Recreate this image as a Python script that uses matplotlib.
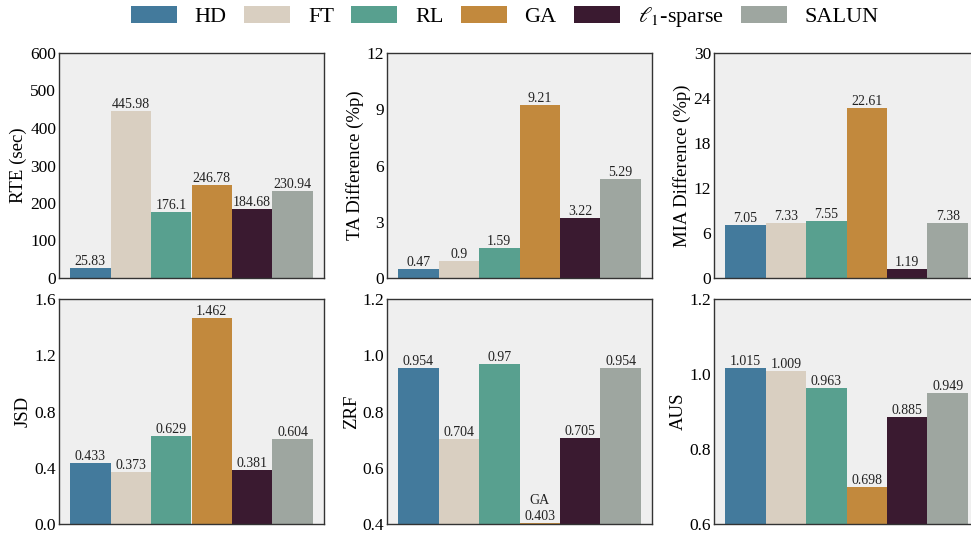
import matplotlib.pyplot as plt
from matplotlib.patches import Patch

plt.rcParams["font.family"] = ["Liberation Serif", "DejaVu Serif"]
plt.rcParams["mathtext.fontset"] = "stix"

methods = ["HD", "FT", "RL", "GA", r"$\ell_1$-sparse", "SALUN"]
colors = ["#437A9C", "#D9CFC1", "#58A08F", "#C2893D", "#3A1A30", "#9EA6A0"]

rte = [25.83, 445.98, 176.1, 246.78, 184.68, 230.94]
ta_diff = [0.47, 0.9, 1.59, 9.21, 3.22, 5.29]
mia_diff = [7.05, 7.33, 7.55, 22.61, 1.19, 7.38]
jsd = [0.433, 0.373, 0.629, 1.462, 0.381, 0.604]
zrf = [0.954, 0.704, 0.97, 0.403, 0.705, 0.954]
aus = [1.015, 1.009, 0.963, 0.698, 0.885, 0.949]

panels = [
    ("RTE (sec)", rte, (0, 600), [0, 100, 200, 300, 400, 500, 600], "{:g}"),
    ("TA Difference (%p)", ta_diff, (0, 12), [0, 3, 6, 9, 12], "{:g}"),
    ("MIA Difference (%p)", mia_diff, (0, 30), [0, 6, 12, 18, 24, 30], "{:g}"),
    ("JSD", jsd, (0, 1.6), [0.0, 0.4, 0.8, 1.2, 1.6], "{:.1f}"),
    ("ZRF", zrf, (0.4, 1.2), [0.4, 0.6, 0.8, 1.0, 1.2], "{:.1f}"),
    ("AUS", aus, (0.6, 1.2), [0.6, 0.8, 1.0, 1.2], "{:.1f}"),
]

W, H = 971, 535
fig = plt.figure(figsize=(W / 100, H / 100), dpi=100)

lefts = [59, 387, 714]
tops = [53, 299]
aw, ah = 265, 225

x = list(range(len(methods)))
for i, (ylabel, vals, ylim, ticks, fmt) in enumerate(panels):
    r, c = divmod(i, 3)
    ax = fig.add_axes([lefts[c] / W, 1 - (tops[r] + ah) / H, aw / W, ah / H])
    ax.set_facecolor("#EFEFEF")
    bars = ax.bar(x, vals, width=1.0, color=colors, edgecolor="none")
    ax.set_xlim(-0.775, 5.775)
    ax.set_ylim(*ylim)
    ax.set_yticks(ticks)
    ax.set_yticklabels([fmt.format(t) for t in ticks], fontsize=12.5)
    ax.set_xticks([])
    ax.tick_params(axis="y", length=0, pad=2)
    ax.set_ylabel(ylabel, fontsize=13.5, labelpad=2)
    for s in ax.spines.values():
        s.set_color("#333333")
        s.set_linewidth(1.0)
    for j, (b, v) in enumerate(zip(bars, vals)):
        label = f"{v:g}"
        if ylabel == "ZRF" and methods[j] == "GA":
            label = f"GA\n{v:g}"
        ax.text(b.get_x() + b.get_width() / 2, v, label, ha="center",
                va="bottom", fontsize=10, color="#222222", linespacing=1.35)

handles = [Patch(facecolor=c, edgecolor="none") for c in colors]
fig.legend(handles, methods, loc="center", bbox_to_anchor=(0.52, 0.968),
           ncol=6, frameon=False, fontsize=16, handlelength=2.07,
           handleheight=0.77, columnspacing=0.77, handletextpad=0.81,
           borderpad=0.2)

fig.savefig("out.png", dpi=100)
